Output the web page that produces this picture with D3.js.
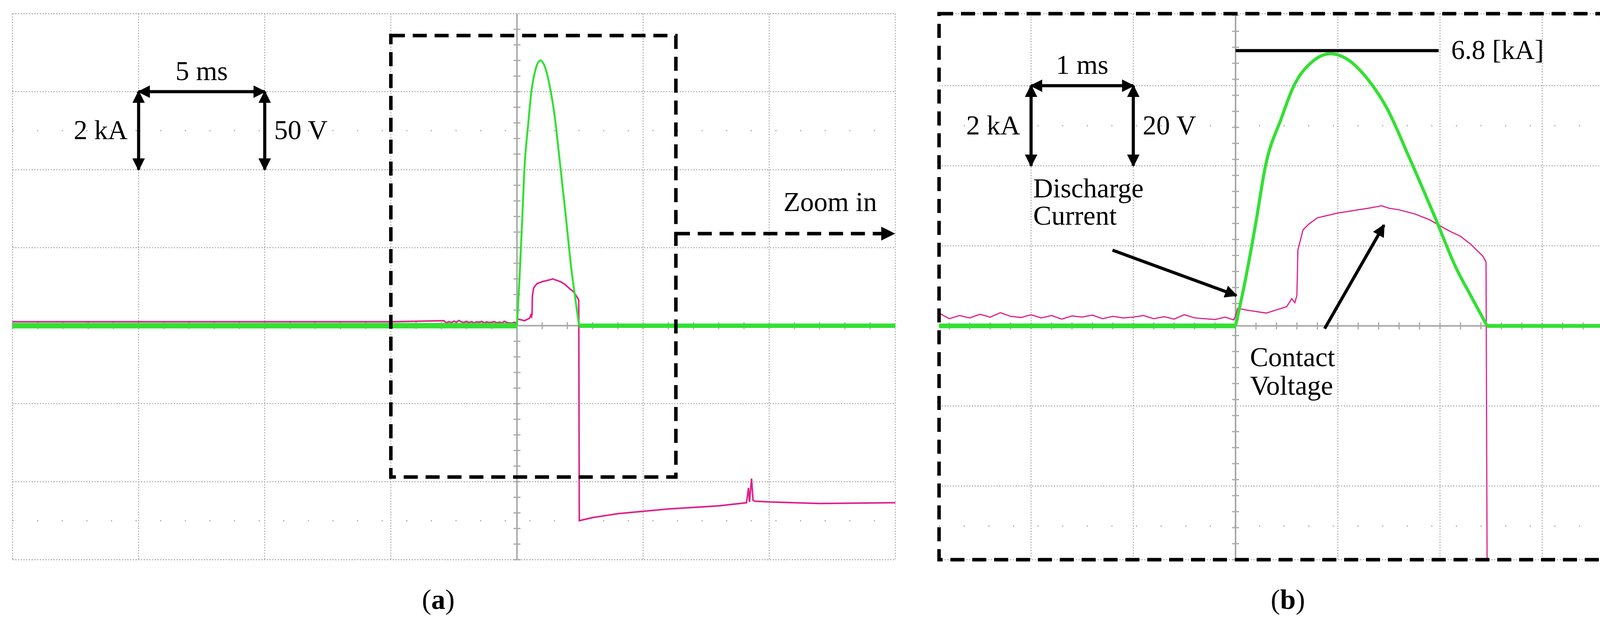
<!DOCTYPE html>
<html><head><meta charset="utf-8">
<script src="https://cdn.jsdelivr.net/npm/d3@7"></script>
<style>body{margin:0;background:#fff}svg{display:block}</style>
</head><body><svg id="c" width="4220" height="1594"></svg>
<script>
// Current (kA) vs time (ms)
const currentT = [-20, 0, 0.1, 0.2, 0.29, 0.45, 0.56, 0.75, 0.93, 1.1, 1.3, 1.48, 1.7, 1.94, 2.17, 2.3, 2.46, 15];
const currentKA = [0, 0, 1.2, 2.6, 3.96, 5.2, 5.94, 6.6, 6.8, 6.65, 6.14, 5.44, 4.2, 2.78, 1.38, 0.76, 0, 0];
// Contact voltage (V) vs time (ms)
const voltT = [-20,-10,-5,-2.9,-2.8,-2.7,-2.6,-2.5,-2.4,-2.3,-2.2,-2.1,-2.0,-1.9,-1.8,-1.7,-1.6,-1.5,-1.4,-1.3,-1.2,-1.1,-1.0,-0.9,-0.8,-0.7,-0.6,-0.5,-0.4,-0.3,-0.2,-0.1,-0.02,
  0, 0.02, 0.1, 0.2, 0.3, 0.4, 0.5, 0.55, 0.58, 0.6, 0.61, 0.63, 0.66, 0.72, 0.8, 0.9, 1.0, 1.1, 1.2, 1.3, 1.43, 1.5, 1.6, 1.75, 1.9, 2.0, 2.1, 2.2, 2.3, 2.42, 2.45,
  2.47, 3, 4, 6, 8, 9.1, 9.18, 9.22, 9.3, 9.36, 9.42, 10, 12, 15];
const voltV = [2.5,2.5,2.5,3.2,1.8,2.6,2.0,2.9,2.2,3.3,2.4,2.1,2.8,2.0,2.6,1.7,2.5,2.2,2.7,1.8,2.4,2.0,2.2,2.6,1.8,2.3,1.7,2.8,2.0,1.8,1.6,2.2,1.5,
  2.5, 4.4, 4.0, 3.6, 3.2, 4.0, 4.8, 6.8, 5.8, 7.6, 19, 21, 24, 25.5, 27, 27.6, 28.2, 28.6, 29, 29.4, 30, 29.4, 29, 28, 26.5, 25, 23.6, 22.4, 20.4, 17.4, 16,
  -125, -123, -120.5, -117.5, -115.5, -113.5, -104, -113, -98, -112, -112.5, -113, -114, -113.5];
// Panel settings (per division)
const panelNames = ["a", "b"];
const msPerDiv = [5, 1];
const kAPerDiv = [2, 2];
const VPerDiv = [50, 20];
const scaleLabelsA = ["5 ms", "2 kA", "50 V"];
const scaleLabelsB = ["1 ms", "2 kA", "20 V"];
const peakLabel = "6.8 [kA]";
const peakValue = 6.8;

const svg = d3.select("#c");
const serif = "'Liberation Serif','DejaVu Serif',serif";
const FS = 70;
const GREEN = "#33e033", MAG = "#e0208a", GRID = "#a8a8a8";

const defs = svg.append("defs");
defs.append("marker").attr("id","ah").attr("viewBox","0 0 10 10").attr("refX",9).attr("refY",5)
   .attr("markerWidth",4).attr("markerHeight",4).attr("orient","auto-start-reverse")
   .append("path").attr("d","M0,0L10,5L0,10z").attr("fill","#000");

function panel(cfg){
  const g = svg.append("g");
  const xd = d3.scaleLinear().domain(cfg.xDiv).range(cfg.xPx);
  const yd = d3.scaleLinear().domain(cfg.yDiv).range(cfg.yPx);
  const x = d3.scaleLinear().domain(cfg.xDiv.map(v=>v*cfg.ms)).range(cfg.xPx);
  const yI = d3.scaleLinear().domain(cfg.yDiv.map(v=>v*cfg.kA)).range(cfg.yPx);
  const yV = d3.scaleLinear().domain(cfg.yDiv.map(v=>v*cfg.V)).range(cfg.yPx);
  const [x0,x1]=cfg.xPx,[y1,y0]=cfg.yPx;
  const cid="clip"+cfg.id;
  defs.append("clipPath").attr("id",cid).append("rect").attr("x",x0).attr("y",y0).attr("width",x1-x0).attr("height",y1-y0);
  const xs = d3.range(Math.ceil(cfg.xDiv[0]), Math.floor(cfg.xDiv[1]+0.01)+1);
  const ys = d3.range(Math.ceil(cfg.yDiv[0]), Math.floor(cfg.yDiv[1]+0.01)+1);
  xs.forEach(v=>{ if(v!==0) g.append("line").attr("x1",xd(v)).attr("x2",xd(v)).attr("y1",y0).attr("y2",y1).attr("stroke",GRID).attr("stroke-width",2.5).attr("stroke-dasharray","3,4");});
  ys.forEach(v=>{ if(v!==0) g.append("line").attr("y1",yd(v)).attr("y2",yd(v)).attr("x1",x0).attr("x2",x1).attr("stroke",GRID).attr("stroke-width",2.5).attr("stroke-dasharray","3,4");});
  [2.5,-2.5].forEach(v=>g.append("line").attr("y1",yd(v)).attr("y2",yd(v)).attr("x1",x0).attr("x2",x1).attr("stroke",GRID).attr("stroke-width",3).attr("stroke-dasharray","3,60"));
  g.append("line").attr("x1",xd(0)).attr("x2",xd(0)).attr("y1",y0).attr("y2",y1).attr("stroke",GRID).attr("stroke-width",4);
  g.append("line").attr("y1",yd(0)).attr("y2",yd(0)).attr("x1",x0).attr("x2",x1).attr("stroke",GRID).attr("stroke-width",4);
  d3.range(cfg.yDiv[0], cfg.yDiv[1], 0.2).forEach(v=>g.append("line").attr("x1",xd(0)-9).attr("x2",xd(0)+9).attr("y1",yd(v)).attr("y2",yd(v)).attr("stroke",GRID).attr("stroke-width",3));
  d3.range(Math.ceil(cfg.xDiv[0]*5)/5, cfg.xDiv[1], 0.2).forEach(v=>g.append("line").attr("y1",yd(0)-9).attr("y2",yd(0)+9).attr("x1",xd(v)).attr("x2",xd(v)).attr("stroke",GRID).attr("stroke-width",3));
  g.append("line").attr("x1",x0).attr("x2",x1).attr("y1",y0).attr("y2",y0).attr("stroke",GRID).attr("stroke-width",2.5).attr("stroke-dasharray","3,4");
  g.append("line").attr("x1",x0).attr("x2",x1).attr("y1",y1).attr("y2",y1).attr("stroke",GRID).attr("stroke-width",2.5).attr("stroke-dasharray","3,4");
  const tr = g.append("g").attr("clip-path",`url(#${cid})`);
  tr.append("path").datum(voltT.map((t,i)=>[t,voltV[i]]))
    .attr("d",d3.line().x(d=>x(d[0])).y(d=>yV(d[1])))
    .attr("fill","none").attr("stroke",MAG).attr("stroke-width",cfg.vw);
  const cur = currentT.map((t,i)=>[t,currentKA[i]]);
  const lineI = d3.line().x(d=>x(d[0])).y(d=>yI(d[1]));
  tr.append("path").datum(cur.slice(0,2)).attr("d",lineI).attr("fill","none").attr("stroke",GREEN).attr("stroke-width",cfg.bw);
  tr.append("path").datum(cur.slice(-2)).attr("d",lineI).attr("fill","none").attr("stroke",GREEN).attr("stroke-width",cfg.bw*0.8);
  tr.append("path").datum(cur.slice(1,-1)).attr("d",lineI.curve(d3.curveMonotoneX)).attr("fill","none").attr("stroke",GREEN).attr("stroke-width",cfg.gw).attr("stroke-linejoin","round");
  const ax0=xd(cfg.arrowX[0]), ax1=xd(cfg.arrowX[1]), ay0=yd(3), ay1=yd(2);
  const ln=(a,b,c,d)=>g.append("line").attr("x1",a).attr("y1",b).attr("x2",c).attr("y2",d).attr("stroke","#000").attr("stroke-width",8)
    .attr("marker-start","url(#ah)").attr("marker-end","url(#ah)");
  ln(ax0,ay0,ax1,ay0); ln(ax0,ay0,ax0,ay1); ln(ax1,ay0,ax1,ay1);
  const txt=(s,xx,yy,anchor)=>g.append("text").attr("x",xx).attr("y",yy).attr("text-anchor",anchor||"start")
    .attr("font-family",serif).attr("font-size",FS).text(s);
  txt(cfg.labels[0],(ax0+ax1)/2,ay0-30,"middle");
  txt(cfg.labels[1],ax0-28,yd(2.5)+22,"end");
  txt(cfg.labels[2],ax1+24,yd(2.5)+22,"start");
  const cap=g.append("text").attr("x",cfg.cap).attr("y",1558).attr("text-anchor","middle").attr("font-family",serif).attr("font-size",72);
  cap.append("tspan").text("(");cap.append("tspan").attr("font-weight","bold").text(cfg.id);cap.append("tspan").text(")");
  return {g,x,xd,yd,yI,txt};
}

const A = panel({id:panelNames[0], xDiv:[-4,3], xPx:[32,2292], yDiv:[-3,4], yPx:[1432,35], ms:msPerDiv[0], kA:kAPerDiv[0], V:VPerDiv[0],
  gw:5, bw:14, vw:4, arrowX:[-3,-2], labels:scaleLabelsA, cap:1122});
A.g.append("rect").attr("x",A.xd(-1)).attr("y",A.yd(3.72)).attr("width",A.xd(1.26)-A.xd(-1)).attr("height",A.yd(-1.94)-A.yd(3.72))
  .attr("fill","none").attr("stroke","#000").attr("stroke-width",9).attr("stroke-dasharray","36,20");
A.g.append("line").attr("x1",A.xd(1.26)).attr("x2",2288).attr("y1",A.yd(1.18)).attr("y2",A.yd(1.18))
  .attr("stroke","#000").attr("stroke-width",9).attr("stroke-dasharray","36,20").attr("marker-end","url(#ah)");
A.txt("Zoom in",2245,540,"end");

const B = panel({id:panelNames[1], xDiv:[-2.9,3.97], xPx:[2404,4202], yDiv:[-2.92,3.9], yPx:[1432,35], ms:msPerDiv[1], kA:kAPerDiv[1], V:VPerDiv[1],
  gw:8, bw:12, vw:3, arrowX:[-2,-1], labels:scaleLabelsB, cap:3297});
B.g.append("rect").attr("x",2404).attr("y",35).attr("width",4202-2404).attr("height",1432-35)
  .attr("fill","none").attr("stroke","#000").attr("stroke-width",9).attr("stroke-dasharray","36,20");
B.g.append("line").attr("x1",B.x(0)).attr("x2",3683).attr("y1",B.yI(peakValue)-8).attr("y2",B.yI(peakValue)-8).attr("stroke","#000").attr("stroke-width",8);
B.txt(peakLabel,3715,B.yI(peakValue)+14);
B.txt("Discharge",2645,505); B.txt("Current",2645,575);
B.txt("Contact",3200,937); B.txt("Voltage",3200,1010);
const arr=(a,b,c,d)=>B.g.append("line").attr("x1",a).attr("y1",b).attr("x2",c).attr("y2",d).attr("stroke","#000").attr("stroke-width",8).attr("marker-end","url(#ah)");
arr(2848,640,3165,756); arr(3391,841,3543,576);
</script></body></html>
